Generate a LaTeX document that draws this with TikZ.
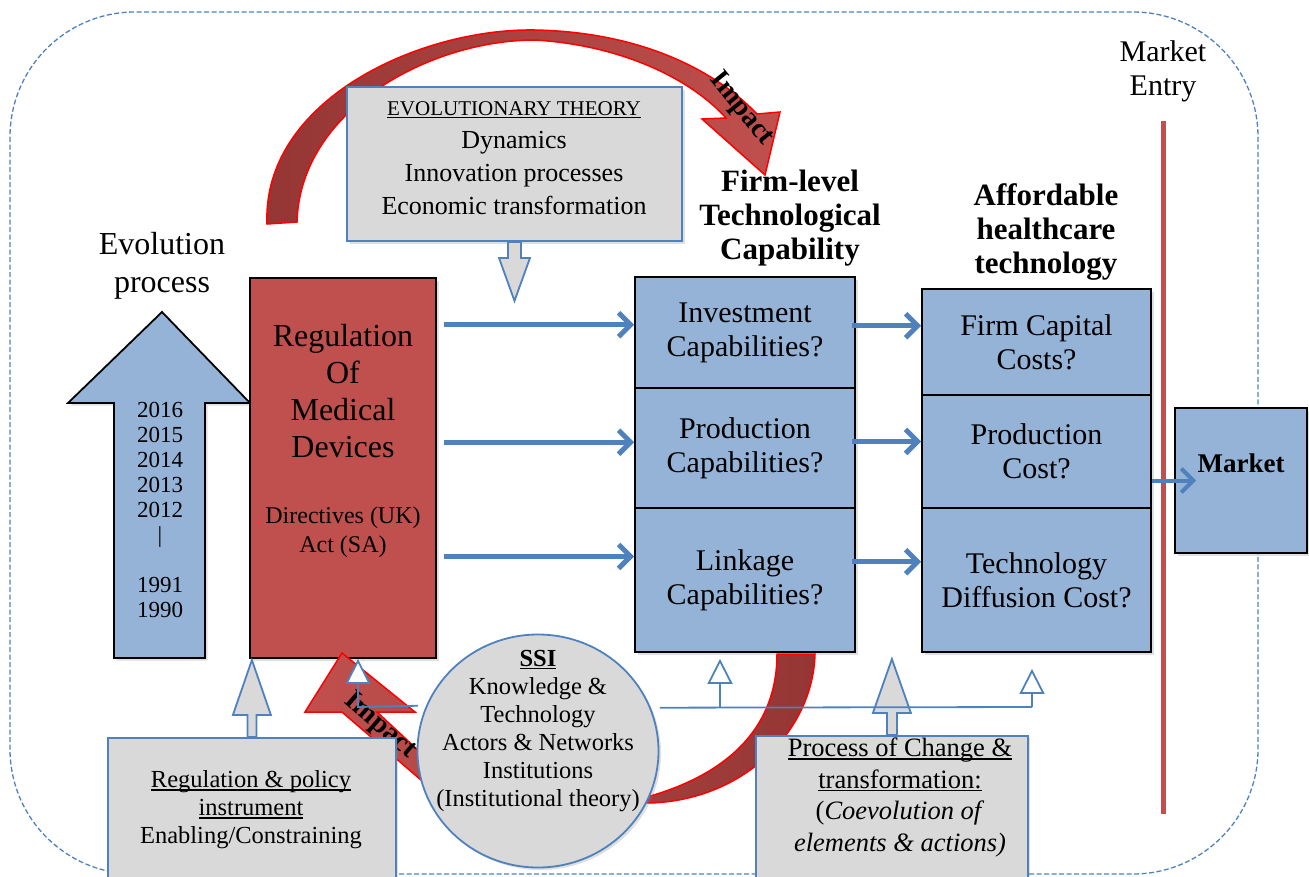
\documentclass[tikz,border=0pt]{standalone}
\usepackage{fontspec}
\usetikzlibrary{arrows.meta,shapes.geometric,shadows}
\setmainfont{Liberation Serif}
\newfontfamily\tnr{Liberation Serif}
\definecolor{boxblue}{HTML}{95B3D7}
\definecolor{regred}{HTML}{C0504D}
\definecolor{darkred}{HTML}{943634}
\definecolor{boxgray}{HTML}{D9D9D9}
\definecolor{lineblue}{HTML}{4F81BD}
\newcommand{\fs}[2]{\fontsize{#1}{#2}\selectfont}
\newsavebox{\undlbox}
\newcommand{\undl}[1]{\sbox{\undlbox}{#1}\rlap{\usebox{\undlbox}}\rule[-0.12em]{\wd\undlbox}{0.06em}}

\begin{document}
\begin{tikzpicture}[x=1pt,y=-1pt,
  boxshadow/.style={drop shadow={shadow xshift=2.5pt, shadow yshift=-2.5pt, opacity=0.25}},
  capbox/.style={draw=black, line width=1.8pt, fill=boxblue, align=center,
    inner sep=0pt, font=\tnr\fs{30}{34}, boxshadow},
  graybox/.style={draw=lineblue, line width=1.8pt, fill=boxgray, inner sep=0pt, boxshadow},
  grayarrow/.style={draw=lineblue, line width=1.8pt, fill=boxgray},
  bluearrow/.style={draw=lineblue, line width=5pt,
    -{Straight Barb[length=12pt,width=24pt]}},
  openarrow/.style={draw=lineblue, line width=1.8pt,
    -{Triangle[fill=white,length=25pt,width=25pt]}},
  impact/.style={draw=red, line width=1.5pt},
  impactlbl/.style={font=\tnr\bfseries\fs{28}{30}},
  heading/.style={font=\tnr\bfseries\fs{31}{34}, align=center}]

  \newcommand\blockarr[5]{% anchor, shaft half, head half, shaft, head
    \draw[grayarrow] ([xshift=-#2pt]#1) -- ++(0,#4) -- ++({#2-#3},0)
      -- ++(#3,#5) -- ++(#3,{-(#5)}) -- ++({#2-#3},0) -- ++(0,{-(#4)}) -- cycle;}

  \useasboundingbox (0,0) rectangle (1309,876);

  %% frame
  \draw[lineblue, line width=1.3pt, dash pattern=on 5pt off 2.5pt,
    rounded corners=125pt] (10,12) rectangle (1258,874);

  %% upper impact arc (behind the theory box)
  \draw[impact, left color=darkred, right color=regred]
    (267,224) .. controls (262,100) and (420,28) .. (535,30)
    .. controls (640,32) and (715,70) .. (757,114)
    -- (780,112) -- (765,175) -- (702,119) -- (726,118)
    .. controls (690,78) and (620,45) .. (535,40)
    .. controls (430,40) and (300,110) .. (297,222) -- cycle;

  %% market entry
  \node[font=\tnr\fs{30}{34}, align=center] (entry) at (1163,71) {Market\\Entry};
  \draw[regred, line width=5pt] ([yshift=-16pt]entry.south) -- ++(0,693);

  %% evolution process
  \node[font=\tnr\fs{32}{38}, align=center] (evolbl) at (162,266) {Evolution\\process};
  \draw[fill=boxblue, line width=1.8pt, boxshadow] (162,312) -- (250,403) -- (205,403)
    -- (205,658) -- (114,658) -- (114,403) -- (68,403) -- cycle;
  \node[font=\fs{23}{25}, align=center] (years) at (160,510)
    {2016\\2015\\2014\\2013\\2012\\|\\[25pt]1991\\1990};

  %% regulation
  \node[capbox, fill=regred, minimum width=186pt, minimum height=380pt] (reg) at (343,468) {};
  \node[font=\fs{32}{37}, align=center] (regtitle) at (343,391)
    {Regulation\\Of\\Medical\\Devices};
  \node[font=\fs{24}{29}, align=center] (regsub) at (343,532) {Directives (UK)\\Act (SA)};

  %% capabilities
  \node[capbox, minimum width=220pt, minimum height=111pt] (inv) at (745,332.5) {Investment\\Capabilities?};
  \node[capbox, minimum width=220pt, minimum height=120pt] (prod) at (745,448) {Production\\Capabilities?};
  \node[capbox, minimum width=220pt, minimum height=144pt] (lnk) at (745,580) {Linkage\\Capabilities?};
  \node[heading] (firmhd) at (790,218) {Firm-level\\Technological\\Capability};

  %% costs
  \node[capbox, minimum width=229pt, minimum height=106pt] (fcap) at (1036.5,342) {Firm Capital\\Costs?};
  \node[capbox, minimum width=229pt, minimum height=113pt] (pcost) at (1036.5,451.5) {Production\\Cost?};
  \node[capbox, minimum width=229pt, minimum height=144pt] (tdiff) at (1036.5,580) {Technology\\Diffusion Cost?};
  \node[heading] (affhd) at (1046,232) {Affordable\\healthcare\\technology};

  \node[capbox, minimum width=132pt, minimum height=145pt] (mkt) at (1241,480.5) {};
  \node[font=\tnr\bfseries\fs{27}{30}] (mktlbl) at (1241,463) {Market};

  %% reg -> capabilities -> costs
  \draw[bluearrow, shorten <=7pt] (inv.176.1 -| reg.east) -- (inv.176.1);
  \draw[bluearrow, shorten <=7pt] (prod.177.4 -| reg.east) -- (prod.177.4);
  \draw[bluearrow, shorten <=7pt] (lnk.168.2 -| reg.east) -- (lnk.168.2);
  \draw[bluearrow, shorten <=-4pt] (fcap.172 -| inv.east) -- (fcap.172);
  \draw[bluearrow, shorten <=-4pt] (pcost.175.8 -| prod.east) -- (pcost.175.8);
  \draw[bluearrow, shorten <=-4pt] (tdiff.171.1 -| lnk.east) -- (tdiff.171.1);
  \draw[bluearrow, line width=4pt, shorten >=-22pt] (mkt.west -| pcost.east) -- (mkt.west);

  %% lower impact arrow (SSI -> regulation)
  \draw[impact, left color=regred, right color=darkred]
    (777,654) -- (815,654) .. controls (813,730) and (745,800) .. (650,803)
    -- (540,800) -- (421,780) -- (342,712) -- (305,712) -- (342,653)
    -- (415,712) -- (377,712) -- (420,752) -- (540,760) -- (647,797)
    .. controls (725,775) and (777,730) .. (777,654) -- cycle;
  \node[impactlbl, rotate=-41] (imp2) at (380,726) {Impact};

  %% evolutionary theory
  \node[graybox, minimum width=335pt, minimum height=154pt] (evo) at (514.5,164) {};
  \node[font=\tnr\fs{21}{25}] (evohd) at (514,110) {\undl{EVOLUTIONARY THEORY}};
  \node[font=\tnr\fs{26}{33}, align=center] (evotxt) at (514,173)
    {Dynamics\\Innovation processes\\Economic transformation};
  \blockarr{evo.south}{6.5}{15.5}{16}{43}

  %% policy and change boxes
  \node[graybox, anchor=north west, minimum width=288pt, minimum height=150pt] (pol) at (107,737) {};
  \node[font=\fs{24.5}{28}, align=center] (poltxt) at (251,810)
    {\undl{Regulation \& policy}\\\undl{instrument}\\Enabling/Constraining};
  \blockarr{pol.north}{4.5}{19}{-22}{-55}

  \node[graybox, anchor=north west, minimum width=272pt, minimum height=150pt] (proc) at (755,735) {};
  \node[font=\fs{26.5}{31.5}, align=center] (proctxt) at (900,797.5)
    {\undl{Process of Change \&}\\\undl{transformation:}\\(\textit{Coevolution of}\\\textit{elements \& actions)}};
  \blockarr{proc.north}{5}{19}{-22}{-54}

  %% SSI
  \node[graybox, ellipse, minimum width=241pt, minimum height=233pt] (ssi) at (538,751) {};
  \node[font=\fs{24.5}{28}, align=center] (ssitxt) at (538,731)
    {\textbf{\undl{SSI}}\\Knowledge \&\\Technology\\Actors \& Networks\\Institutions\\(Institutional theory)};

  %% SSI feedback lines
  \coordinate (busB) at (358,707);
  \coordinate (busD) at (720,707);
  \coordinate (busE) at (1032,707);
  \draw[openarrow] ([xshift=-8pt]ssi.158.4) -- (busB) -- (busB |- reg.south);
  \draw[draw=lineblue, line width=1.8pt] ([xshift=9pt]ssi.21.6) -- (busE);
  \draw[openarrow, shorten >=6pt] (busD) -- (busD |- lnk.south);
  \draw[openarrow, shorten >=16pt] (busE) -- (busE |- tdiff.south);

  %% upper impact label
  \node[impactlbl, rotate=-51] (imp1) at (741,109) {Impact};

\end{tikzpicture}
\end{document}
